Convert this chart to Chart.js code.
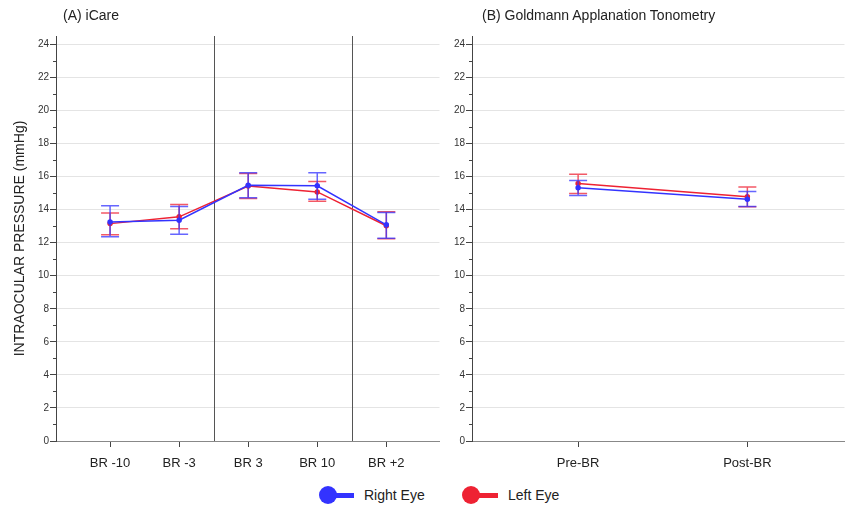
<!DOCTYPE html>
<html>
<head>
<meta charset="utf-8">
<script src="https://cdn.jsdelivr.net/npm/chart.js@4/dist/chart.umd.min.js"></script>
<style>
  body { margin: 0; background: #fff; font-family: "Liberation Sans", Arial, sans-serif; }
  #page { position: relative; width: 845px; height: 508px; overflow: hidden; }
  .panel { position: absolute; top: 0; }
  .title { position: absolute; top: 7px; font-size: 14px; color: #222; white-space: nowrap; }
  .legend { position: absolute; top: 486px; font-size: 14px; color: #222; }
  .dot { position: absolute; width: 18px; height: 18px; border-radius: 50%; top: 0; }
  .tail { position: absolute; height: 5px; top: 7px; }
  .lbl { position: absolute; top: 1px; white-space: nowrap; }
</style>
</head>
<body>
<div id="page">
  <div class="panel" style="left:0;width:443px;height:480px"><canvas id="chartA" width="443" height="480"></canvas></div>
  <div class="panel" style="left:440px;width:408px;height:480px"><canvas id="chartB" width="408" height="480"></canvas></div>
  <div class="title" style="left:63px">(A) iCare</div>
  <div class="title" style="left:482px">(B) Goldmann Applanation Tonometry</div>

  <div class="legend" style="left:319px">
    <div class="tail" style="left:9px;width:26px;background:#3333ff"></div>
    <div class="dot" style="left:0;background:#3333ff"></div>
    <div class="lbl" style="left:45px">Right Eye</div>
  </div>
  <div class="legend" style="left:462px">
    <div class="tail" style="left:9px;width:27px;background:#ee2233"></div>
    <div class="dot" style="left:0;background:#ee2233"></div>
    <div class="lbl" style="left:46px">Left Eye</div>
  </div>
</div>

<script>
// iCare readings (mean with error bar ends)
const iCareLabels = ["BR -10", "BR -3", "BR 3", "BR 10", "BR +2"];
const iCareRight = [13.25, 13.36, 15.47, 15.44, 13.08];
const iCareRightLo = [12.35, 12.51, 14.71, 14.63, 12.27];
const iCareRightHi = [14.23, 14.19, 16.22, 16.22, 13.83];
const iCareLeft = [13.15, 13.56, 15.42, 15.07, 13.02];
const iCareLeftLo = [12.47, 12.84, 14.67, 14.51, 12.23];
const iCareLeftHi = [13.8, 14.31, 16.18, 15.7, 13.87];
// breaks between phases of the iCare series
const iCareBreaks = [1.5, 3.5];

// Goldmann applanation tonometry
const gatLabels = ["Pre-BR", "Post-BR"];
const gatRight = [15.32, 14.63];
const gatRightLo = [14.85, 14.19];
const gatRightHi = [15.76, 15.1];
const gatLeft = [15.58, 14.77];
const gatLeftLo = [14.97, 14.17];
const gatLeftHi = [16.14, 15.36];

// y axis ticks (labelled) and minor ticks
const yTicks = [0, 2, 4, 6, 8, 10, 12, 14, 16, 18, 20, 22, 24];
const yMinorTicks = [1, 3, 5, 7, 9, 11, 13, 15, 17, 19, 21, 23];

const BLUE = "#3333ff";
const RED = "#ee2233";
const FONT = "'Liberation Sans', Arial, sans-serif";

function points(values) {
  return values.map((v, i) => ({ x: i, y: v }));
}

function makeDataset(label, color, values, lo, hi) {
  return {
    label: label,
    data: points(values),
    errLo: lo,
    errHi: hi,
    borderColor: color,
    backgroundColor: color,
    borderWidth: 1.5,
    pointRadius: 2,
    pointHoverRadius: 2,
    tension: 0,
  };
}

// draw error bars right after each dataset
const errorBars = {
  id: "errorBars",
  afterDatasetDraw(chart, args) {
    const ds = chart.data.datasets[args.index];
    if (!ds.errLo) return;
    const ctx = chart.ctx;
    const xs = chart.scales.x;
    const ys = chart.scales.y;
    ctx.save();
    ctx.strokeStyle = ds.borderColor;
    ctx.globalAlpha = 0.75;
    ctx.lineWidth = 1.5;
    ds.data.forEach((p, i) => {
      const x = xs.getPixelForValue(p.x);
      const y1 = ys.getPixelForValue(ds.errLo[i]);
      const y2 = ys.getPixelForValue(ds.errHi[i]);
      ctx.beginPath();
      ctx.moveTo(x, y1);
      ctx.lineTo(x, y2);
      ctx.moveTo(x - 9, y1);
      ctx.lineTo(x + 9, y1);
      ctx.moveTo(x - 9, y2);
      ctx.lineTo(x + 9, y2);
      ctx.stroke();
    });
    ctx.restore();
  },
};

// minor ticks on odd values of the y axis
const minorTicks = {
  id: "minorTicks",
  afterDraw(chart) {
    const ys = chart.scales.y;
    const left = chart.chartArea.left;
    const ctx = chart.ctx;
    ctx.save();
    ctx.strokeStyle = "#444";
    ctx.lineWidth = 1;
    yMinorTicks.forEach((v) => {
      const y = Math.round(ys.getPixelForValue(v)) + 0.5;
      ctx.beginPath();
      ctx.moveTo(left - 3, y);
      ctx.lineTo(left, y);
      ctx.stroke();
    });
    ctx.restore();
  },
};

// vertical separators between phases
const separators = {
  id: "separators",
  beforeDatasetsDraw(chart, args, opts) {
    if (!opts.at) return;
    const xs = chart.scales.x;
    const area = chart.chartArea;
    const ctx = chart.ctx;
    ctx.save();
    ctx.strokeStyle = "#555";
    ctx.lineWidth = 1;
    opts.at.forEach((v) => {
      const x = Math.round(xs.getPixelForValue(v)) + 0.5;
      ctx.beginPath();
      ctx.moveTo(x, area.top);
      ctx.lineTo(x, area.bottom);
      ctx.stroke();
    });
    ctx.restore();
  },
};

function buildChart(id, labels, datasets, xMin, xMax, yWidth, showTitle, breaks) {
  return new Chart(document.getElementById(id), {
    type: "line",
    data: { datasets: datasets },
    options: {
      responsive: false,
      animation: false,
      layout: { padding: { top: 36, right: 1, left: 0, bottom: 0 } },
      plugins: {
        legend: { display: false },
        tooltip: { enabled: false },
        separators: { at: breaks },
      },
      scales: {
        x: {
          type: "linear",
          min: xMin,
          max: xMax,
          afterBuildTicks: (s) => {
            s.ticks = labels.map((_, i) => ({ value: i }));
          },
          afterFit: (s) => {
            s.height = 39;
          },
          ticks: {
            callback: (v) => labels[v],
            autoSkip: false,
            maxRotation: 0,
            padding: 9,
            color: "#222",
            font: { family: FONT, size: 13 },
          },
          grid: {
            drawOnChartArea: false,
            drawTicks: true,
            tickLength: 6,
            tickColor: "#444",
          },
          border: { color: "#888", width: 1 },
        },
        y: {
          min: 0,
          max: 24.5,
          afterBuildTicks: (s) => {
            s.ticks = yTicks.map((v) => ({ value: v }));
          },
          afterFit: (s) => {
            s.width = yWidth;
          },
          ticks: {
            padding: 1,
            color: "#333",
            font: { family: FONT, size: 10 },
          },
          grid: {
            color: "#e4e4e4",
            tickLength: 6,
            tickColor: "#444",
          },
          border: { color: "#444", width: 1 },
          title: {
            display: showTitle,
            text: "INTRAOCULAR PRESSURE (mmHg)",
            color: "#222",
            font: { family: FONT, size: 14 },
            padding: { top: 12, bottom: 0 },
          },
        },
      },
    },
    plugins: [separators, errorBars, minorTicks],
  });
}

buildChart(
  "chartA",
  iCareLabels,
  [
    makeDataset("Right Eye", BLUE, iCareRight, iCareRightLo, iCareRightHi),
    makeDataset("Left Eye", RED, iCareLeft, iCareLeftLo, iCareLeftHi),
  ],
  -0.783, 4.77, 56, true, iCareBreaks
);

buildChart(
  "chartB",
  gatLabels,
  [
    makeDataset("Right Eye", BLUE, gatRight, gatRightLo, gatRightHi),
    makeDataset("Left Eye", RED, gatLeft, gatLeftLo, gatLeftHi),
  ],
  -0.627, 1.574, 32, false, null
);
</script>
</body>
</html>
